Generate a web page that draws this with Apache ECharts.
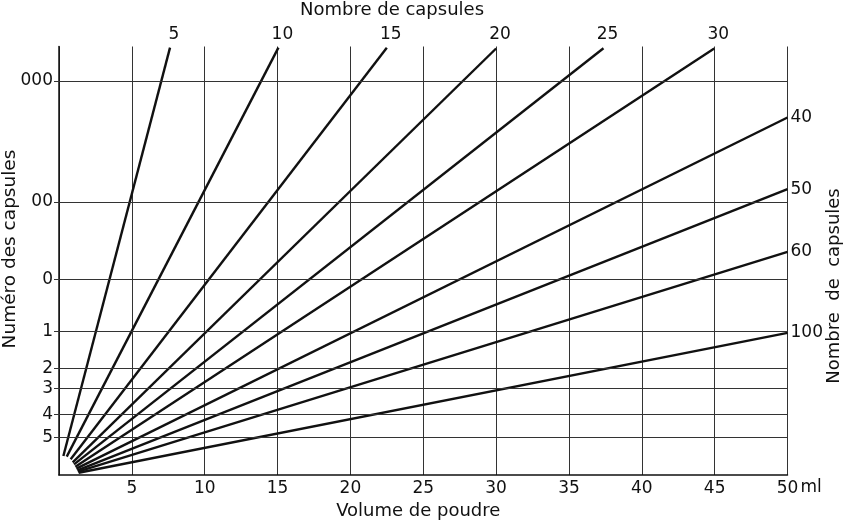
<!DOCTYPE html>
<html>
<head>
<meta charset="utf-8">
<script src="https://cdn.jsdelivr.net/npm/echarts@6/dist/echarts.min.js"></script>
<style>html,body{margin:0;padding:0;background:#fff;}#c{width:844px;height:529px;}</style>
</head>
<body>
<div id="c"></div>
<script>
// Capsule sizes (y axis) and their fill volume in ml
const capsuleNames = ['000', '00', '0', '1', '2', '3', '4', '5'];
const capsuleVolumes = [1.37, 0.95, 0.68, 0.50, 0.37, 0.30, 0.21, 0.13];
// Volume de poudre ticks (x axis)
const volumeTicks = [5, 10, 15, 20, 25, 30, 35, 40, 45, 50];
// Lines: number of capsules, start and end points
const capsuleCounts = [5, 10, 15, 20, 25, 30, 40, 50, 60, 100];
const startX = [0.30, 0.53, 0.80, 0.94, 1.03, 1.12, 1.19, 1.26, 1.30, 1.35];
const startY = [0.066, 0.064, 0.055, 0.044, 0.037, 0.029, 0.022, 0.016, 0.012, 0.008];
const endX = [7.62, 15.06, 22.50, 30.00, 37.37, 44.97, 50, 50, 50, 50];
const endY = [1.486, 1.486, 1.486, 1.483, 1.484, 1.483, 1.243, 0.994, 0.776, 0.494];

const FONT = '"DejaVu Sans", Verdana, sans-serif';
const chart = echarts.init(document.getElementById('c'), null, {renderer: 'canvas'});

const series = capsuleCounts.map((n, i) => {
  const onTop = endX[i] < 50;
  return {
    type: 'line',
    name: String(n),
    animation: false,
    silent: true,
    clip: false,
    symbol: 'circle',
    symbolSize: 0,
    showSymbol: true,
    lineStyle: {color: '#111', width: 2.4},
    itemStyle: {color: '#111'},
    data: [
      [startX[i], startY[i]],
      {
        value: [endX[i], endY[i]],
        label: onTop
          ? {show: true, position: 'top', distance: 5, offset: [4, 0], formatter: String(n),
             fontFamily: FONT, fontSize: 17, color: '#111'}
          : {show: true, position: 'right', distance: 3, formatter: String(n),
             fontFamily: FONT, fontSize: 17, color: '#111'}
      }
    ],
    markLine: i === 0 ? {
      silent: true,
      animation: false,
      symbol: ['none', 'none'],
      label: {show: false},
      lineStyle: {color: '#333', width: 1, type: 'solid'},
      data: capsuleVolumes.map(v => ({yAxis: v}))
    } : undefined
  };
});

const option = {
  animation: false,
  backgroundColor: '#fff',
  grid: {left: 59, right: 56.5, top: 46.5, bottom: 54, containLabel: false},
  xAxis: {
    type: 'value',
    min: 0, max: 50, interval: 5,
    name: 'Volume de poudre',
    nameLocation: 'middle',
    nameGap: 26,
    nameTextStyle: {fontFamily: FONT, fontSize: 18, color: '#111', padding: [0, 10, 0, 0]},
    axisLine: {show: true, onZero: false, lineStyle: {color: '#111', width: 1.5}},
    axisTick: {show: false},
    splitLine: {show: true, lineStyle: {color: '#333', width: 1}},
    axisLabel: {
      margin: 5, fontFamily: FONT, fontSize: 17, color: '#111',
      formatter: v => (volumeTicks.indexOf(v) >= 0 ? String(v) : '')
    }
  },
  yAxis: {
    type: 'value',
    min: 0, max: 1.49,
    axisLine: {show: true, onZero: false, lineStyle: {color: '#111', width: 1.5}},
    axisTick: {show: true, inside: false, length: 5, customValues: capsuleVolumes,
               lineStyle: {color: '#333', width: 1}},
    splitLine: {show: false},
    axisLabel: {
      margin: 6, fontFamily: FONT, fontSize: 17, color: '#111',
      customValues: capsuleVolumes,
      formatter: v => {
        for (let k = 0; k < capsuleVolumes.length; k++) {
          if (Math.abs(capsuleVolumes[k] - v) < 1e-6) return capsuleNames[k];
        }
        return '';
      }
    }
  },
  graphic: [
    {type: 'text', x: 392, y: 10, silent: true,
     style: {text: 'Nombre de capsules', font: '18px ' + FONT, fill: '#111',
             textAlign: 'center', textVerticalAlign: 'middle'}},
    {type: 'text', x: 10, y: 249, rotation: Math.PI / 2, silent: true,
     style: {text: 'Numéro des capsules', font: '18.5px ' + FONT, fill: '#111',
             textAlign: 'center', textVerticalAlign: 'middle'}},
    {type: 'text', x: 834, y: 286, rotation: Math.PI / 2, silent: true,
     style: {text: 'Nombre  de  capsules', font: '18px ' + FONT, fill: '#111',
             textAlign: 'center', textVerticalAlign: 'middle'}}
  ],
  series: series
};

chart.setOption(option);

// "ml" unit after the last x tick label
const px50 = chart.convertToPixel({xAxisIndex: 0}, 50);
const pyAxis = chart.convertToPixel({yAxisIndex: 0}, 0);
option.graphic.push({
  type: 'text', x: px50 + 13, y: pyAxis + 13, silent: true,
  style: {text: 'ml', font: '17px ' + FONT, fill: '#111', textAlign: 'left', textVerticalAlign: 'middle'}
});
chart.setOption({graphic: option.graphic});
</script>
</body>
</html>
